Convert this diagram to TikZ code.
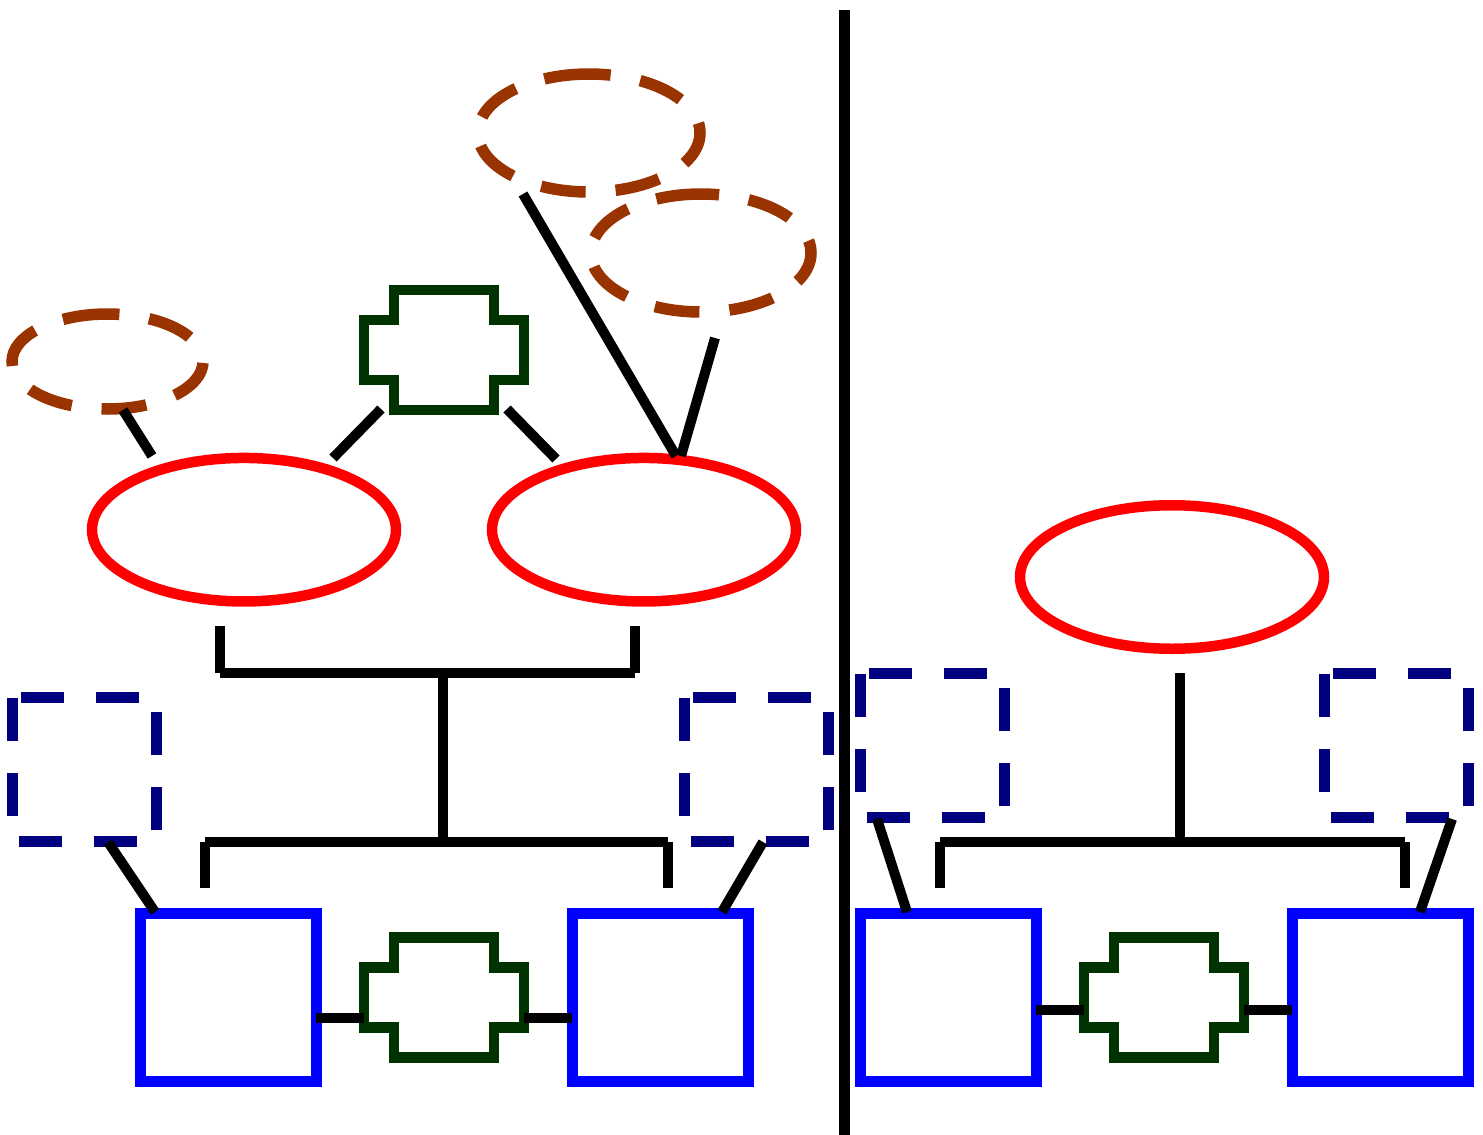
\documentclass[tikz,border=0pt]{standalone}
\usetikzlibrary{shapes.geometric}
\definecolor{navyc}{HTML}{000080}
\definecolor{brownc}{HTML}{993300}
\definecolor{dgreen}{HTML}{003300}
\begin{document}
\begin{tikzpicture}[x=1pt,y=-1pt,
  redell/.style={draw=red, line width=10.5pt, ellipse, inner sep=0pt, minimum width=304pt, minimum height=143.5pt},
  bluesq/.style={draw=blue, line width=11pt, rectangle, inner sep=0pt, minimum width=176pt, minimum height=167.5pt},
  navydash/.style={draw=navyc, line width=11pt, dash pattern=on 43pt off 32pt},
  browndash/.style={draw=brownc, line width=11.5pt, dash pattern=on 45pt off 30pt},
  crossst/.style={draw=dgreen, line width=10.5pt},
  conn/.style={draw=black, line width=10pt},
  sep/.style={draw=black, line width=11pt}]
\useasboundingbox (0,0) rectangle (1483,1135);

% separator
\coordinate (s1) at (844.5,10);
\coordinate (s2) at (844.5,1135);
\draw[sep] (s1) -- (s2);

% red ellipses
\node[redell] (e1) at (244,529.7) {};
\node[redell] (e2) at (644,529.7) {};
\node[redell] (e3) at (1172,577) {};

% blue squares
\node[bluesq] (q1) at (228,997.4) {};
\node[bluesq] (q2) at (660,997.4) {};
\node[bluesq] (q3) at (948,997.4) {};
\node[bluesq] (q4) at (1380,997.4) {};

% brown dashed ellipses
\coordinate (b1) at (107.5,361.5);
\draw[browndash] (107.5,314) arc[start angle=270, end angle=-90, x radius=95.5, y radius=47.5];
\coordinate (b2) at (589,133);
\draw[browndash] (589,74) arc[start angle=270, end angle=-90, x radius=111, y radius=59];
\coordinate (b3) at (701,253);
\draw[browndash] (701,194) arc[start angle=270, end angle=-90, x radius=110, y radius=59];

% navy dashed squares
\coordinate (d1) at (84.5,769.5);
\draw[navydash] (12.5,697.5) -- (12.5,841.5) -- (156.5,841.5) -- (156.5,697.5) -- cycle;
\coordinate (d2) at (756.5,769.5);
\draw[navydash] (684.5,697.5) -- (684.5,841.5) -- (828.5,841.5) -- (828.5,697.5) -- cycle;
\coordinate (d3) at (932.5,745.5);
\draw[navydash] (860.5,673.5) -- (860.5,817.5) -- (1004.5,817.5) -- (1004.5,673.5) -- cycle;
\coordinate (d4) at (1396.5,745.5);
\draw[navydash] (1324.5,673.5) -- (1324.5,817.5) -- (1468.5,817.5) -- (1468.5,673.5) -- cycle;

% green crosses
\coordinate (c1) at (444,350);
\draw[crossst, shift={(444,350)}] (-80,-30) -- (-50,-30) -- (-50,-60) -- (50,-60) -- (50,-30) -- (80,-30) -- (80,30) -- (50,30) -- (50,60) -- (-50,60) -- (-50,30) -- (-80,30) -- cycle;
\coordinate (c2) at (444,997.5);
\draw[crossst, shift={(444,997.5)}] (-80,-30) -- (-50,-30) -- (-50,-60) -- (50,-60) -- (50,-30) -- (80,-30) -- (80,30) -- (50,30) -- (50,60) -- (-50,60) -- (-50,30) -- (-80,30) -- cycle;
\coordinate (c3) at (1164,997.5);
\draw[crossst, shift={(1164,997.5)}] (-80,-30) -- (-50,-30) -- (-50,-60) -- (50,-60) -- (50,-30) -- (80,-30) -- (80,30) -- (50,30) -- (50,60) -- (-50,60) -- (-50,30) -- (-80,30) -- cycle;

% connector end points
\coordinate (k1a) at (123,410);   \coordinate (k1b) at (152,456);
\coordinate (k2a) at (381,409);   \coordinate (k2b) at (333,458);
\coordinate (k3a) at (507,409);   \coordinate (k3b) at (556,459);
\coordinate (k4a) at (523,194);   \coordinate (k4b) at (676,456);
\coordinate (k5a) at (715,338);   \coordinate (k5b) at (681,456);
% left family
\coordinate (f1) at (220,626);  \coordinate (f2) at (220,673);
\coordinate (f3) at (635,673);  \coordinate (f4) at (635,626);
\coordinate (f5) at (443,673);  \coordinate (f6) at (443,838);
\coordinate (g1) at (205,888);  \coordinate (g2) at (205,842);
\coordinate (g3) at (668,842);  \coordinate (g4) at (668,888);
\coordinate (h1a) at (108,842); \coordinate (h1b) at (155,912);
\coordinate (h2a) at (763,842); \coordinate (h2b) at (722,912);
\coordinate (m1a) at (316,1018); \coordinate (m1b) at (364,1018);
\coordinate (m2a) at (524,1018); \coordinate (m2b) at (572,1018);
% right family
\coordinate (r1) at (1180,673); \coordinate (r2) at (1180,838);
\coordinate (r3) at (940,842);  \coordinate (r4) at (940,888);
\coordinate (r5) at (1405,842); \coordinate (r6) at (1405,888);
\coordinate (p1a) at (877,819);  \coordinate (p1b) at (907,912);
\coordinate (p2a) at (1452,819); \coordinate (p2b) at (1420,912);
\coordinate (n1a) at (1036,1009.5); \coordinate (n1b) at (1084,1009.5);
\coordinate (n2a) at (1244,1009.5); \coordinate (n2b) at (1292,1009.5);

\draw[conn] (k1a) -- (k1b);
\draw[conn] (k2a) -- (k2b);
\draw[conn] (k3a) -- (k3b);
\draw[conn] (k4a) -- (k4b);
\draw[conn] (k5a) -- (k5b);
\draw[conn] (f1) -- (f2);
\draw[conn] (f2) -- (f3);
\draw[conn] (f3) -- (f4);
\draw[conn] (f5) -- (f6);
\draw[conn] (g2) -- (g1);
\draw[conn] (g2) -- (g3);
\draw[conn] (g3) -- (g4);
\draw[conn] (h1a) -- (h1b);
\draw[conn] (h2a) -- (h2b);
\draw[conn] (m1a) -- (m1b);
\draw[conn] (m2a) -- (m2b);
\draw[conn] (r1) -- (r2);
\draw[conn] (r3) -- (r4);
\draw[conn] (r3) -- (r5);
\draw[conn] (r5) -- (r6);
\draw[conn] (p1a) -- (p1b);
\draw[conn] (p2a) -- (p2b);
\draw[conn] (n1a) -- (n1b);
\draw[conn] (n2a) -- (n2b);
\end{tikzpicture}
\end{document}
